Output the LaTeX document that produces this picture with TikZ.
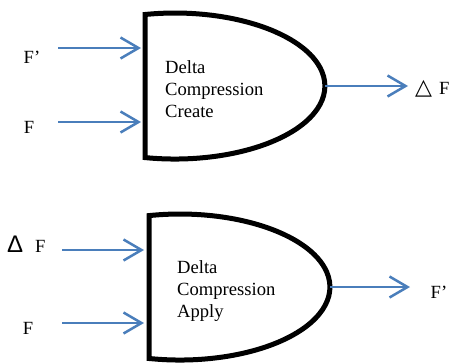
\documentclass[tikz,border=0pt]{standalone}
\usepackage{fontspec}
\setmainfont{Liberation Serif}
\newfontfamily\symfont{DejaVu Sans}
\newfontfamily\grkfont{Liberation Sans}
\usetikzlibrary{arrows.meta}
\definecolor{flowblue}{RGB}{74,126,187}
\tikzset{
  flow/.style={draw=flowblue, line width=2.5pt,
    -{Straight Barb[length=18pt,width=21pt,line width=2.5pt]}},
  gate/.style={draw=black, line width=5pt, line join=miter},
  lbl/.style={font=\fontsize{18.6}{22}\selectfont, inner sep=0pt},
}
\begin{document}
\begin{tikzpicture}[x=1pt,y=-1pt]
    \useasboundingbox (0,0) rectangle (455,362);
    % create gate
    \draw[gate] (145,14.5) arc[start angle=-101.5, end angle=101.5, x radius=150, y radius=73] -- cycle;
        \node[lbl, align=left, anchor=west] (create) at (165,89) {Delta\\Compression\\Create};
        \coordinate (c in1) at (141,48);
        \coordinate (c in2) at (141,122);
        \coordinate (c out) at (325,86);
        \coordinate (fp tail) at (58,48);
        \coordinate (f tail) at (58,122);
        \coordinate (df head) at (408,86);
        \node[lbl] (fp in) at (32,57) {F'};
        \node[lbl] (f in) at (29,127) {F};
        \node[lbl, anchor=west] (df out) at (415,89) {{\symfont\fontsize{22}{22}\selectfont △}\hspace{7pt}F};
        \draw[flow] (fp tail) -- (c in1);
        \draw[flow] (f tail) -- (c in2);
        \draw[flow] (c out) -- (df head);
    % apply gate
    \draw[gate] (149,215.6) arc[start angle=-101.9, end angle=101.9, x radius=150, y radius=73] -- cycle;
        \node[lbl, align=left, anchor=west] (apply) at (177,291) {Delta\\Compression\\Apply};
        \coordinate (a in1) at (144,250);
        \coordinate (a in2) at (144,323);
        \coordinate (a out) at (330,287);
        \coordinate (df tail) at (62,250);
        \coordinate (f2 tail) at (62,323);
        \coordinate (fp head) at (410,287);
        \node[lbl, anchor=west] (df in) at (7,244) {{\grkfont\fontsize{24}{24}\selectfont Δ}\hspace{12pt}F};
        \node[lbl] (f2 in) at (28,328) {F};
        \node[lbl] (fp out) at (439,292) {F'};
        \draw[flow] (df tail) -- (a in1);
        \draw[flow] (f2 tail) -- (a in2);
        \draw[flow] (a out) -- (fp head);
\end{tikzpicture}
\end{document}
